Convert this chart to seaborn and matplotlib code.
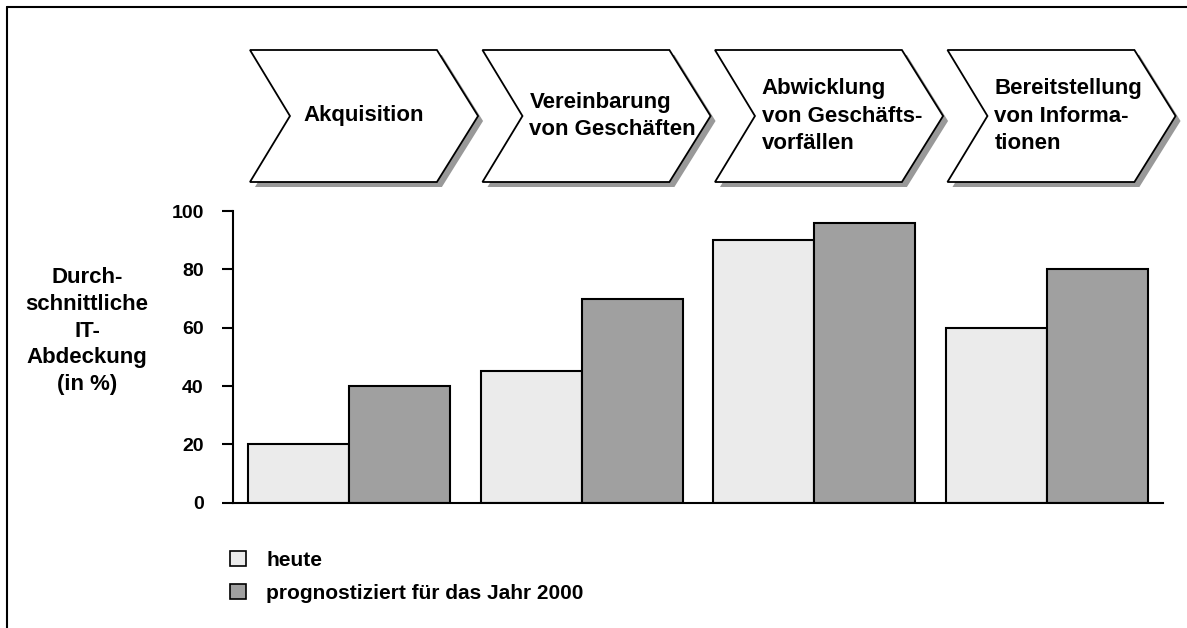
import matplotlib
matplotlib.use("Agg")
import matplotlib.pyplot as plt
import matplotlib.transforms as mtransforms
from matplotlib.patches import Polygon, Patch
from matplotlib.lines import Line2D
import pandas as pd
import seaborn as sns

# data
stages = ["Akquisition", "Vereinbarung\nvon Geschäften",
          "Abwicklung\nvon Geschäfts-\nvorfällen",
          "Bereitstellung\nvon Informa-\ntionen"]
series = ["heute", "prognostiziert für das Jahr 2000"]
heute = [20, 45, 90, 60]
prognose = [40, 70, 96, 80]
yticks = [0, 20, 40, 60, 80, 100]
ylabel = "Durch-\nschnittliche\nIT-\nAbdeckung\n(in %)"
colors = ["#ebebeb", "#a0a0a0"]

df = pd.DataFrame({
    "stage": stages * 2,
    "series": [series[0]] * 4 + [series[1]] * 4,
    "value": heute + prognose,
})

sns.set_style("white")
plt.rcParams["font.family"] = ["Liberation Sans", "DejaVu Sans"]
plt.rcParams["font.weight"] = "bold"
plt.rcParams["text.color"] = "black"
plt.rcParams["ytick.color"] = "black"
plt.rcParams["ytick.labelcolor"] = "black"

W, H = 1187, 628
fig = plt.figure(figsize=(W / 100, H / 100), dpi=100)

# bar axes placed in pixel units
left, right, top, bottom = 233, 1163, 211, 502.7
ax = fig.add_axes([left / W, (H - bottom) / H, (right - left) / W, (bottom - top) / H])
sns.barplot(data=df, x="stage", y="value", hue="series", palette=colors,
            saturation=1, width=0.87, gap=0, edgecolor="black", linewidth=1.5,
            legend=False, ax=ax)
ax.set_xlim(-0.5, 3.5)
ax.set_ylim(0, 100)
ax.set_yticks(yticks)
ax.set_xticks([])
ax.set_xlabel("")
ax.set_ylabel("")
for s in ["top", "right"]:
    ax.spines[s].set_visible(False)
for s in ["left", "bottom"]:
    ax.spines[s].set_linewidth(1.5)
    ax.spines[s].set_color("black")
ax.tick_params(axis="y", direction="out", length=8, width=1.5, pad=13,
               labelsize=14, left=True, colors="black")
for t in ax.get_yticklabels():
    t.set_fontweight("bold")

# overlay in pixel coordinates
over = fig.add_axes([0, 0, 1, 1], zorder=-1)
over.set_xlim(0, W)
over.set_ylim(H, 0)
over.axis("off")

# frame
over.add_line(Line2D([7, W], [7, 7], color="black", lw=1.5))
over.add_line(Line2D([7, 7], [7, H], color="black", lw=1.5))

# chevrons aligned to the categories
blend = mtransforms.blended_transform_factory(ax.transData, over.transData)
shadow = blend + mtransforms.ScaledTranslation(5 / 100, -5 / 100, fig.dpi_scale_trans)
y_top, y_mid, y_bot = 50, 116, 182
for i, label in enumerate(stages):
    pts = [(i - 0.427, y_top), (i + 0.377, y_top), (i + 0.554, y_mid),
           (i + 0.377, y_bot), (i - 0.427, y_bot), (i - 0.255, y_mid)]
    fig.add_artist(Polygon(pts, closed=True, transform=shadow,
                           facecolor="#999999", edgecolor="none", zorder=1))
    fig.add_artist(Polygon(pts, closed=True, transform=blend,
                           facecolor="white", edgecolor="black", lw=1.3, zorder=2))
    if "\n" in label:
        fig.text(i - 0.225, y_mid, label, transform=blend, ha="left", va="center",
                 fontsize=16, fontweight="bold", linespacing=1.4, zorder=3)
    else:
        fig.text(i + 0.06, y_mid, label, transform=blend, ha="center", va="center",
                 fontsize=16, fontweight="bold", zorder=3)

# y label
fig.text(87 / W, 1 - 331 / H, ylabel, ha="center", va="center",
         multialignment="center", fontsize=16, fontweight="bold", linespacing=1.35)

# legend
handles = [Patch(facecolor=c, edgecolor="black", lw=1.2) for c in colors]
ax.legend(handles, series, loc="upper left",
          bbox_to_anchor=(230 / W, 1 - 551 / H), bbox_transform=fig.transFigure,
          frameon=False, handlelength=0.75, handleheight=0.75,
          handletextpad=1.0, labelspacing=0.65, borderpad=0, borderaxespad=0,
          prop={"weight": "bold", "size": 15})

fig.savefig("out.png", dpi=100)
